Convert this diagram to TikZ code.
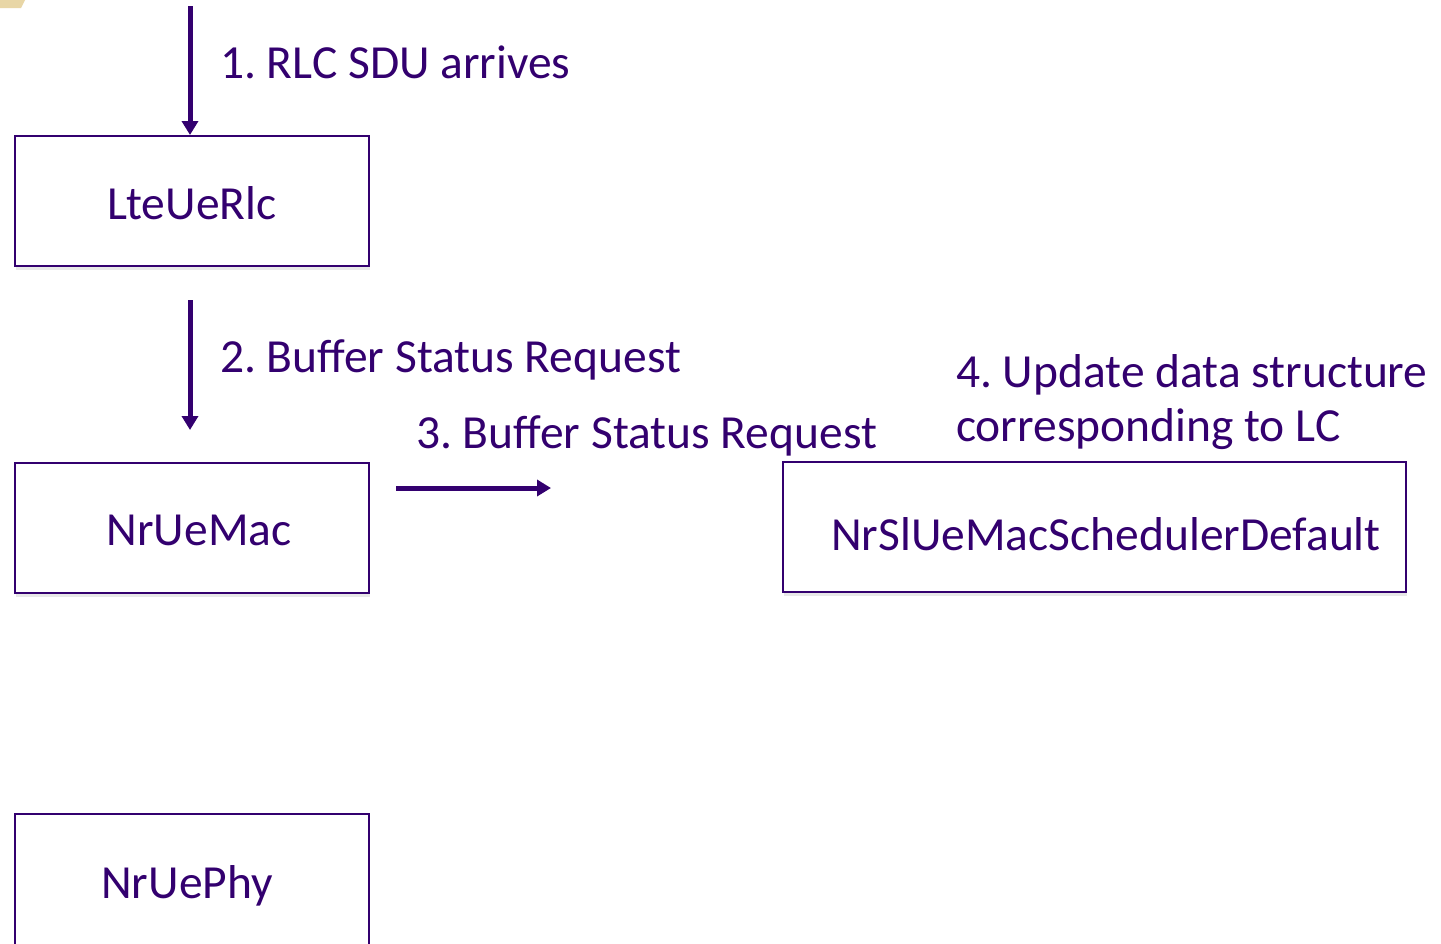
\documentclass[tikz,border=0pt]{standalone}
\usepackage{fontspec}
\setmainfont{Carlito}
\usetikzlibrary{arrows.meta,shadows}
\definecolor{ink}{RGB}{51,0,111}
\definecolor{tan}{RGB}{232,214,166}
\frenchspacing
\tikzset{
  module/.style={draw=ink, line width=2pt, fill=white, inner sep=0pt,
    drop shadow={opacity=0.18, shadow xshift=1pt, shadow yshift=-4pt}},
  boxtext/.style={text=ink, font=\fontsize{47.5}{56}\selectfont, anchor=base, inner sep=0pt},
  msg/.style={text=ink, font=\fontsize{47.5}{56}\selectfont, anchor=base west, inner sep=0pt, align=left},
  flow/.style={draw=ink, line width=5pt, -{Triangle[width=16pt,length=14pt]}}
}
\begin{document}
\begin{tikzpicture}[x=1pt,y=-1pt]
\clip (0,0) rectangle (1441,943);
\fill[white] (0,0) rectangle (1441,943);
% corner tab
\fill[tan] (0,0) -- (25,0) -- (21,8) -- (0,8) -- cycle;

% module boxes
\node[module, minimum width=354pt, minimum height=130pt] (rlc) at (192,201) {};
\node[module, minimum width=354pt, minimum height=130pt] (mac) at (192,528) {};
\node[module, minimum width=354pt, minimum height=160pt] (phy) at (192,894) {};
\node[module, minimum width=623pt, minimum height=130pt] (sched) at (1094.5,527) {};

% box titles
\node[boxtext] (rlct) at (192,219) {LteUeRlc};
\node[boxtext] (mact) at (199,545) {NrUeMac};
\node[boxtext] (phyt) at (187,898) {NrUePhy};
\node[boxtext] (schedt) at (1106,550) {NrSlUeMacSchedulerDefault};

% message arrows
\coordinate (s1) at (190,6);
\coordinate (s2) at (190,300);
\coordinate (e2) at (190,430);
\coordinate (s3) at (396,488);
\coordinate (e3) at (551,488);
\draw[flow] (s1) -- (s1 |- rlc.north);
\draw[flow] (s2) -- (e2);
\draw[flow] (s3) -- (e3);

% message labels
\node[msg] (m1) at (220,78) {1. RLC SDU arrives};
\node[msg] (m2) at (220,372) {2. Buffer Status Request};
\node[msg] (m3) at (416,448) {3. Buffer Status Request};
\node[msg] (m4a) at (956,387) {4. Update data structure};
\node[msg] (m4b) at (956,441) {corresponding to LC};
\end{tikzpicture}
\end{document}
